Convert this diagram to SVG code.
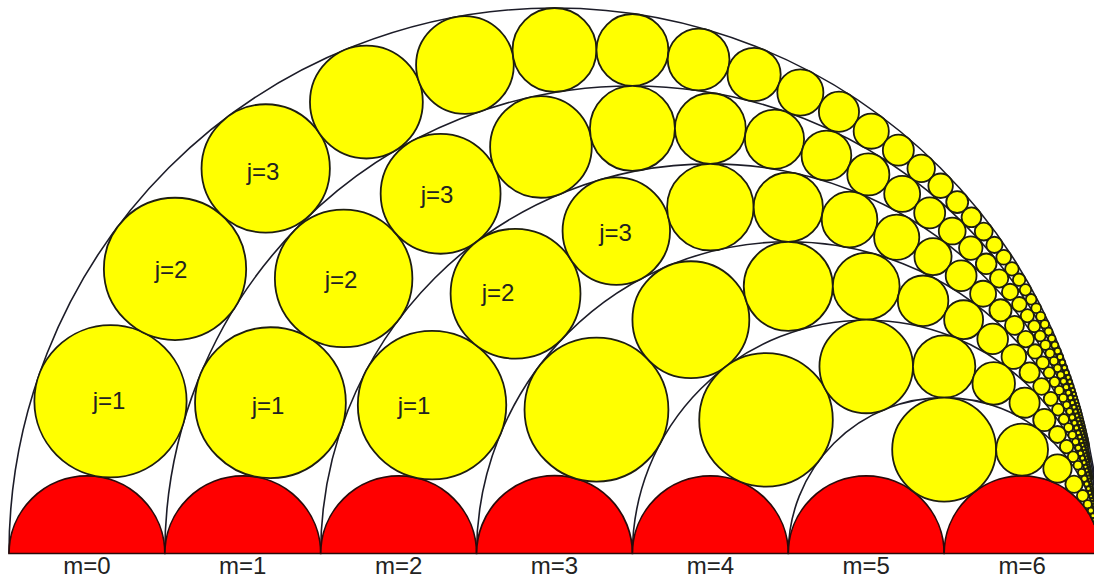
<svg xmlns="http://www.w3.org/2000/svg" width="1094" height="577" viewBox="0 0 1094 577">
<style>
.bg{fill:#ffffff}
.arc{fill:none;stroke:#1c1c28;stroke-width:1.6}
.red{fill:#ff0000;stroke:#2a0a0a;stroke-width:1.7}
.ch svg{overflow:visible}
.ch circle{fill:#ffff00;stroke:#1e1e10;stroke-width:1.8;vector-effect:non-scaling-stroke}
text{font-family:"Liberation Sans",Arial,sans-serif;font-size:24px;fill:#222;text-anchor:middle}
</style>
<rect class="bg" x="0" y="0" width="1094" height="577"/>
<g id="arcs">
<path class="arc" d="M9 553.5A545.5 545.5 0 0 1 1100 553.5"/>
<path class="arc" d="M164.857 553.5A467.571 467.571 0 0 1 1100 553.5"/>
<path class="arc" d="M320.714 553.5A389.643 389.643 0 0 1 1100 553.5"/>
<path class="arc" d="M476.571 553.5A311.714 311.714 0 0 1 1100 553.5"/>
<path class="arc" d="M632.429 553.5A233.786 233.786 0 0 1 1100 553.5"/>
<path class="arc" d="M788.286 553.5A155.857 155.857 0 0 1 1100 553.5"/>
</g>
<g id="red-semicircles">
<path class="red" d="M9 553.5A77.929 77.929 0 0 1 164.857 553.5Z"/>
<path class="red" d="M164.857 553.5A77.929 77.929 0 0 1 320.714 553.5Z"/>
<path class="red" d="M320.714 553.5A77.929 77.929 0 0 1 476.571 553.5Z"/>
<path class="red" d="M476.571 553.5A77.929 77.929 0 0 1 632.429 553.5Z"/>
<path class="red" d="M632.429 553.5A77.929 77.929 0 0 1 788.286 553.5Z"/>
<path class="red" d="M788.286 553.5A77.929 77.929 0 0 1 944.143 553.5Z"/>
<path class="red" d="M944.143 553.5A77.929 77.929 0 0 1 1100 553.5Z"/>
</g>
<g id="chain-m0" class="ch" transform="translate(1100 553.5) scale(3273)">
<svg width="1" height="1" viewBox="0 0 43 43"><circle cx="-13" cy="-2" r="1"/></svg>
<svg width="1" height="1" viewBox="0 0 46 46"><circle cx="-13" cy="-4" r="1"/></svg>
<svg width="1" height="1" viewBox="0 0 51 51"><circle cx="-13" cy="-6" r="1"/></svg>
<svg width="1" height="1" viewBox="0 0 58 58"><circle cx="-13" cy="-8" r="1"/></svg>
<svg width="1" height="1" viewBox="0 0 67 67"><circle cx="-13" cy="-10" r="1"/></svg>
<svg width="1" height="1" viewBox="0 0 78 78"><circle cx="-13" cy="-12" r="1"/></svg>
<svg width="1" height="1" viewBox="0 0 91 91"><circle cx="-13" cy="-14" r="1"/></svg>
<svg width="1" height="1" viewBox="0 0 106 106"><circle cx="-13" cy="-16" r="1"/></svg>
<svg width="1" height="1" viewBox="0 0 123 123"><circle cx="-13" cy="-18" r="1"/></svg>
<svg width="1" height="1" viewBox="0 0 142 142"><circle cx="-13" cy="-20" r="1"/></svg>
<svg width="1" height="1" viewBox="0 0 163 163"><circle cx="-13" cy="-22" r="1"/></svg>
<svg width="1" height="1" viewBox="0 0 186 186"><circle cx="-13" cy="-24" r="1"/></svg>
<svg width="1" height="1" viewBox="0 0 211 211"><circle cx="-13" cy="-26" r="1"/></svg>
<svg width="1" height="1" viewBox="0 0 238 238"><circle cx="-13" cy="-28" r="1"/></svg>
<svg width="1" height="1" viewBox="0 0 267 267"><circle cx="-13" cy="-30" r="1"/></svg>
<svg width="1" height="1" viewBox="0 0 298 298"><circle cx="-13" cy="-32" r="1"/></svg>
<svg width="1" height="1" viewBox="0 0 331 331"><circle cx="-13" cy="-34" r="1"/></svg>
<svg width="1" height="1" viewBox="0 0 366 366"><circle cx="-13" cy="-36" r="1"/></svg>
<svg width="1" height="1" viewBox="0 0 403 403"><circle cx="-13" cy="-38" r="1"/></svg>
<svg width="1" height="1" viewBox="0 0 442 442"><circle cx="-13" cy="-40" r="1"/></svg>
<svg width="1" height="1" viewBox="0 0 483 483"><circle cx="-13" cy="-42" r="1"/></svg>
<svg width="1" height="1" viewBox="0 0 526 526"><circle cx="-13" cy="-44" r="1"/></svg>
<svg width="1" height="1" viewBox="0 0 571 571"><circle cx="-13" cy="-46" r="1"/></svg>
<svg width="1" height="1" viewBox="0 0 618 618"><circle cx="-13" cy="-48" r="1"/></svg>
<svg width="1" height="1" viewBox="0 0 667 667"><circle cx="-13" cy="-50" r="1"/></svg>
<svg width="1" height="1" viewBox="0 0 718 718"><circle cx="-13" cy="-52" r="1"/></svg>
<svg width="1" height="1" viewBox="0 0 771 771"><circle cx="-13" cy="-54" r="1"/></svg>
<svg width="1" height="1" viewBox="0 0 826 826"><circle cx="-13" cy="-56" r="1"/></svg>
<svg width="1" height="1" viewBox="0 0 883 883"><circle cx="-13" cy="-58" r="1"/></svg>
<svg width="1" height="1" viewBox="0 0 942 942"><circle cx="-13" cy="-60" r="1"/></svg>
<svg width="1" height="1" viewBox="0 0 1003 1003"><circle cx="-13" cy="-62" r="1"/></svg>
<svg width="1" height="1" viewBox="0 0 1066 1066"><circle cx="-13" cy="-64" r="1"/></svg>
<svg width="1" height="1" viewBox="0 0 1131 1131"><circle cx="-13" cy="-66" r="1"/></svg>
<svg width="1" height="1" viewBox="0 0 1198 1198"><circle cx="-13" cy="-68" r="1"/></svg>
<svg width="1" height="1" viewBox="0 0 1267 1267"><circle cx="-13" cy="-70" r="1"/></svg>
<svg width="1" height="1" viewBox="0 0 1338 1338"><circle cx="-13" cy="-72" r="1"/></svg>
<svg width="1" height="1" viewBox="0 0 1411 1411"><circle cx="-13" cy="-74" r="1"/></svg>
<svg width="1" height="1" viewBox="0 0 1486 1486"><circle cx="-13" cy="-76" r="1"/></svg>
<svg width="1" height="1" viewBox="0 0 1563 1563"><circle cx="-13" cy="-78" r="1"/></svg>
<svg width="1" height="1" viewBox="0 0 1642 1642"><circle cx="-13" cy="-80" r="1"/></svg>
<svg width="1" height="1" viewBox="0 0 1723 1723"><circle cx="-13" cy="-82" r="1"/></svg>
<svg width="1" height="1" viewBox="0 0 1806 1806"><circle cx="-13" cy="-84" r="1"/></svg>
<svg width="1" height="1" viewBox="0 0 1891 1891"><circle cx="-13" cy="-86" r="1"/></svg>
<svg width="1" height="1" viewBox="0 0 1978 1978"><circle cx="-13" cy="-88" r="1"/></svg>
<svg width="1" height="1" viewBox="0 0 2067 2067"><circle cx="-13" cy="-90" r="1"/></svg>
<svg width="1" height="1" viewBox="0 0 2158 2158"><circle cx="-13" cy="-92" r="1"/></svg>
<svg width="1" height="1" viewBox="0 0 2251 2251"><circle cx="-13" cy="-94" r="1"/></svg>
<svg width="1" height="1" viewBox="0 0 2346 2346"><circle cx="-13" cy="-96" r="1"/></svg>
<svg width="1" height="1" viewBox="0 0 2443 2443"><circle cx="-13" cy="-98" r="1"/></svg>
<svg width="1" height="1" viewBox="0 0 2542 2542"><circle cx="-13" cy="-100" r="1"/></svg>
<svg width="1" height="1" viewBox="0 0 2643 2643"><circle cx="-13" cy="-102" r="1"/></svg>
<svg width="1" height="1" viewBox="0 0 2746 2746"><circle cx="-13" cy="-104" r="1"/></svg>
<svg width="1" height="1" viewBox="0 0 2851 2851"><circle cx="-13" cy="-106" r="1"/></svg>
<svg width="1" height="1" viewBox="0 0 2958 2958"><circle cx="-13" cy="-108" r="1"/></svg>
<svg width="1" height="1" viewBox="0 0 3067 3067"><circle cx="-13" cy="-110" r="1"/></svg>
<svg width="1" height="1" viewBox="0 0 3178 3178"><circle cx="-13" cy="-112" r="1"/></svg>
<svg width="1" height="1" viewBox="0 0 3291 3291"><circle cx="-13" cy="-114" r="1"/></svg>
<svg width="1" height="1" viewBox="0 0 3406 3406"><circle cx="-13" cy="-116" r="1"/></svg>
<svg width="1" height="1" viewBox="0 0 3523 3523"><circle cx="-13" cy="-118" r="1"/></svg>
<svg width="1" height="1" viewBox="0 0 3642 3642"><circle cx="-13" cy="-120" r="1"/></svg>
</g>
<g id="chain-m1" class="ch" transform="translate(1100 553.5) scale(2337.86)">
<svg width="1" height="1" viewBox="0 0 31 31"><circle cx="-11" cy="-2" r="1"/></svg>
<svg width="1" height="1" viewBox="0 0 34 34"><circle cx="-11" cy="-4" r="1"/></svg>
<svg width="1" height="1" viewBox="0 0 39 39"><circle cx="-11" cy="-6" r="1"/></svg>
<svg width="1" height="1" viewBox="0 0 46 46"><circle cx="-11" cy="-8" r="1"/></svg>
<svg width="1" height="1" viewBox="0 0 55 55"><circle cx="-11" cy="-10" r="1"/></svg>
<svg width="1" height="1" viewBox="0 0 66 66"><circle cx="-11" cy="-12" r="1"/></svg>
<svg width="1" height="1" viewBox="0 0 79 79"><circle cx="-11" cy="-14" r="1"/></svg>
<svg width="1" height="1" viewBox="0 0 94 94"><circle cx="-11" cy="-16" r="1"/></svg>
<svg width="1" height="1" viewBox="0 0 111 111"><circle cx="-11" cy="-18" r="1"/></svg>
<svg width="1" height="1" viewBox="0 0 130 130"><circle cx="-11" cy="-20" r="1"/></svg>
<svg width="1" height="1" viewBox="0 0 151 151"><circle cx="-11" cy="-22" r="1"/></svg>
<svg width="1" height="1" viewBox="0 0 174 174"><circle cx="-11" cy="-24" r="1"/></svg>
<svg width="1" height="1" viewBox="0 0 199 199"><circle cx="-11" cy="-26" r="1"/></svg>
<svg width="1" height="1" viewBox="0 0 226 226"><circle cx="-11" cy="-28" r="1"/></svg>
<svg width="1" height="1" viewBox="0 0 255 255"><circle cx="-11" cy="-30" r="1"/></svg>
<svg width="1" height="1" viewBox="0 0 286 286"><circle cx="-11" cy="-32" r="1"/></svg>
<svg width="1" height="1" viewBox="0 0 319 319"><circle cx="-11" cy="-34" r="1"/></svg>
<svg width="1" height="1" viewBox="0 0 354 354"><circle cx="-11" cy="-36" r="1"/></svg>
<svg width="1" height="1" viewBox="0 0 391 391"><circle cx="-11" cy="-38" r="1"/></svg>
<svg width="1" height="1" viewBox="0 0 430 430"><circle cx="-11" cy="-40" r="1"/></svg>
<svg width="1" height="1" viewBox="0 0 471 471"><circle cx="-11" cy="-42" r="1"/></svg>
<svg width="1" height="1" viewBox="0 0 514 514"><circle cx="-11" cy="-44" r="1"/></svg>
<svg width="1" height="1" viewBox="0 0 559 559"><circle cx="-11" cy="-46" r="1"/></svg>
<svg width="1" height="1" viewBox="0 0 606 606"><circle cx="-11" cy="-48" r="1"/></svg>
<svg width="1" height="1" viewBox="0 0 655 655"><circle cx="-11" cy="-50" r="1"/></svg>
<svg width="1" height="1" viewBox="0 0 706 706"><circle cx="-11" cy="-52" r="1"/></svg>
<svg width="1" height="1" viewBox="0 0 759 759"><circle cx="-11" cy="-54" r="1"/></svg>
<svg width="1" height="1" viewBox="0 0 814 814"><circle cx="-11" cy="-56" r="1"/></svg>
<svg width="1" height="1" viewBox="0 0 871 871"><circle cx="-11" cy="-58" r="1"/></svg>
<svg width="1" height="1" viewBox="0 0 930 930"><circle cx="-11" cy="-60" r="1"/></svg>
<svg width="1" height="1" viewBox="0 0 991 991"><circle cx="-11" cy="-62" r="1"/></svg>
<svg width="1" height="1" viewBox="0 0 1054 1054"><circle cx="-11" cy="-64" r="1"/></svg>
<svg width="1" height="1" viewBox="0 0 1119 1119"><circle cx="-11" cy="-66" r="1"/></svg>
<svg width="1" height="1" viewBox="0 0 1186 1186"><circle cx="-11" cy="-68" r="1"/></svg>
<svg width="1" height="1" viewBox="0 0 1255 1255"><circle cx="-11" cy="-70" r="1"/></svg>
<svg width="1" height="1" viewBox="0 0 1326 1326"><circle cx="-11" cy="-72" r="1"/></svg>
<svg width="1" height="1" viewBox="0 0 1399 1399"><circle cx="-11" cy="-74" r="1"/></svg>
<svg width="1" height="1" viewBox="0 0 1474 1474"><circle cx="-11" cy="-76" r="1"/></svg>
<svg width="1" height="1" viewBox="0 0 1551 1551"><circle cx="-11" cy="-78" r="1"/></svg>
<svg width="1" height="1" viewBox="0 0 1630 1630"><circle cx="-11" cy="-80" r="1"/></svg>
<svg width="1" height="1" viewBox="0 0 1711 1711"><circle cx="-11" cy="-82" r="1"/></svg>
<svg width="1" height="1" viewBox="0 0 1794 1794"><circle cx="-11" cy="-84" r="1"/></svg>
<svg width="1" height="1" viewBox="0 0 1879 1879"><circle cx="-11" cy="-86" r="1"/></svg>
<svg width="1" height="1" viewBox="0 0 1966 1966"><circle cx="-11" cy="-88" r="1"/></svg>
<svg width="1" height="1" viewBox="0 0 2055 2055"><circle cx="-11" cy="-90" r="1"/></svg>
<svg width="1" height="1" viewBox="0 0 2146 2146"><circle cx="-11" cy="-92" r="1"/></svg>
<svg width="1" height="1" viewBox="0 0 2239 2239"><circle cx="-11" cy="-94" r="1"/></svg>
<svg width="1" height="1" viewBox="0 0 2334 2334"><circle cx="-11" cy="-96" r="1"/></svg>
<svg width="1" height="1" viewBox="0 0 2431 2431"><circle cx="-11" cy="-98" r="1"/></svg>
<svg width="1" height="1" viewBox="0 0 2530 2530"><circle cx="-11" cy="-100" r="1"/></svg>
</g>
<g id="chain-m2" class="ch" transform="translate(1100 553.5) scale(1558.57)">
<svg width="1" height="1" viewBox="0 0 21 21"><circle cx="-9" cy="-2" r="1"/></svg>
<svg width="1" height="1" viewBox="0 0 24 24"><circle cx="-9" cy="-4" r="1"/></svg>
<svg width="1" height="1" viewBox="0 0 29 29"><circle cx="-9" cy="-6" r="1"/></svg>
<svg width="1" height="1" viewBox="0 0 36 36"><circle cx="-9" cy="-8" r="1"/></svg>
<svg width="1" height="1" viewBox="0 0 45 45"><circle cx="-9" cy="-10" r="1"/></svg>
<svg width="1" height="1" viewBox="0 0 56 56"><circle cx="-9" cy="-12" r="1"/></svg>
<svg width="1" height="1" viewBox="0 0 69 69"><circle cx="-9" cy="-14" r="1"/></svg>
<svg width="1" height="1" viewBox="0 0 84 84"><circle cx="-9" cy="-16" r="1"/></svg>
<svg width="1" height="1" viewBox="0 0 101 101"><circle cx="-9" cy="-18" r="1"/></svg>
<svg width="1" height="1" viewBox="0 0 120 120"><circle cx="-9" cy="-20" r="1"/></svg>
<svg width="1" height="1" viewBox="0 0 141 141"><circle cx="-9" cy="-22" r="1"/></svg>
<svg width="1" height="1" viewBox="0 0 164 164"><circle cx="-9" cy="-24" r="1"/></svg>
<svg width="1" height="1" viewBox="0 0 189 189"><circle cx="-9" cy="-26" r="1"/></svg>
<svg width="1" height="1" viewBox="0 0 216 216"><circle cx="-9" cy="-28" r="1"/></svg>
<svg width="1" height="1" viewBox="0 0 245 245"><circle cx="-9" cy="-30" r="1"/></svg>
<svg width="1" height="1" viewBox="0 0 276 276"><circle cx="-9" cy="-32" r="1"/></svg>
<svg width="1" height="1" viewBox="0 0 309 309"><circle cx="-9" cy="-34" r="1"/></svg>
<svg width="1" height="1" viewBox="0 0 344 344"><circle cx="-9" cy="-36" r="1"/></svg>
<svg width="1" height="1" viewBox="0 0 381 381"><circle cx="-9" cy="-38" r="1"/></svg>
<svg width="1" height="1" viewBox="0 0 420 420"><circle cx="-9" cy="-40" r="1"/></svg>
<svg width="1" height="1" viewBox="0 0 461 461"><circle cx="-9" cy="-42" r="1"/></svg>
<svg width="1" height="1" viewBox="0 0 504 504"><circle cx="-9" cy="-44" r="1"/></svg>
<svg width="1" height="1" viewBox="0 0 549 549"><circle cx="-9" cy="-46" r="1"/></svg>
<svg width="1" height="1" viewBox="0 0 596 596"><circle cx="-9" cy="-48" r="1"/></svg>
<svg width="1" height="1" viewBox="0 0 645 645"><circle cx="-9" cy="-50" r="1"/></svg>
<svg width="1" height="1" viewBox="0 0 696 696"><circle cx="-9" cy="-52" r="1"/></svg>
<svg width="1" height="1" viewBox="0 0 749 749"><circle cx="-9" cy="-54" r="1"/></svg>
<svg width="1" height="1" viewBox="0 0 804 804"><circle cx="-9" cy="-56" r="1"/></svg>
<svg width="1" height="1" viewBox="0 0 861 861"><circle cx="-9" cy="-58" r="1"/></svg>
<svg width="1" height="1" viewBox="0 0 920 920"><circle cx="-9" cy="-60" r="1"/></svg>
<svg width="1" height="1" viewBox="0 0 981 981"><circle cx="-9" cy="-62" r="1"/></svg>
<svg width="1" height="1" viewBox="0 0 1044 1044"><circle cx="-9" cy="-64" r="1"/></svg>
<svg width="1" height="1" viewBox="0 0 1109 1109"><circle cx="-9" cy="-66" r="1"/></svg>
<svg width="1" height="1" viewBox="0 0 1176 1176"><circle cx="-9" cy="-68" r="1"/></svg>
<svg width="1" height="1" viewBox="0 0 1245 1245"><circle cx="-9" cy="-70" r="1"/></svg>
<svg width="1" height="1" viewBox="0 0 1316 1316"><circle cx="-9" cy="-72" r="1"/></svg>
<svg width="1" height="1" viewBox="0 0 1389 1389"><circle cx="-9" cy="-74" r="1"/></svg>
<svg width="1" height="1" viewBox="0 0 1464 1464"><circle cx="-9" cy="-76" r="1"/></svg>
<svg width="1" height="1" viewBox="0 0 1541 1541"><circle cx="-9" cy="-78" r="1"/></svg>
<svg width="1" height="1" viewBox="0 0 1620 1620"><circle cx="-9" cy="-80" r="1"/></svg>
<svg width="1" height="1" viewBox="0 0 1701 1701"><circle cx="-9" cy="-82" r="1"/></svg>
</g>
<g id="chain-m3" class="ch" transform="translate(1100 553.5) scale(935.14)">
<svg width="1" height="1" viewBox="0 0 13 13"><circle cx="-7" cy="-2" r="1"/></svg>
<svg width="1" height="1" viewBox="0 0 16 16"><circle cx="-7" cy="-4" r="1"/></svg>
<svg width="1" height="1" viewBox="0 0 21 21"><circle cx="-7" cy="-6" r="1"/></svg>
<svg width="1" height="1" viewBox="0 0 28 28"><circle cx="-7" cy="-8" r="1"/></svg>
<svg width="1" height="1" viewBox="0 0 37 37"><circle cx="-7" cy="-10" r="1"/></svg>
<svg width="1" height="1" viewBox="0 0 48 48"><circle cx="-7" cy="-12" r="1"/></svg>
<svg width="1" height="1" viewBox="0 0 61 61"><circle cx="-7" cy="-14" r="1"/></svg>
<svg width="1" height="1" viewBox="0 0 76 76"><circle cx="-7" cy="-16" r="1"/></svg>
<svg width="1" height="1" viewBox="0 0 93 93"><circle cx="-7" cy="-18" r="1"/></svg>
<svg width="1" height="1" viewBox="0 0 112 112"><circle cx="-7" cy="-20" r="1"/></svg>
<svg width="1" height="1" viewBox="0 0 133 133"><circle cx="-7" cy="-22" r="1"/></svg>
<svg width="1" height="1" viewBox="0 0 156 156"><circle cx="-7" cy="-24" r="1"/></svg>
<svg width="1" height="1" viewBox="0 0 181 181"><circle cx="-7" cy="-26" r="1"/></svg>
<svg width="1" height="1" viewBox="0 0 208 208"><circle cx="-7" cy="-28" r="1"/></svg>
<svg width="1" height="1" viewBox="0 0 237 237"><circle cx="-7" cy="-30" r="1"/></svg>
<svg width="1" height="1" viewBox="0 0 268 268"><circle cx="-7" cy="-32" r="1"/></svg>
<svg width="1" height="1" viewBox="0 0 301 301"><circle cx="-7" cy="-34" r="1"/></svg>
<svg width="1" height="1" viewBox="0 0 336 336"><circle cx="-7" cy="-36" r="1"/></svg>
<svg width="1" height="1" viewBox="0 0 373 373"><circle cx="-7" cy="-38" r="1"/></svg>
<svg width="1" height="1" viewBox="0 0 412 412"><circle cx="-7" cy="-40" r="1"/></svg>
<svg width="1" height="1" viewBox="0 0 453 453"><circle cx="-7" cy="-42" r="1"/></svg>
<svg width="1" height="1" viewBox="0 0 496 496"><circle cx="-7" cy="-44" r="1"/></svg>
<svg width="1" height="1" viewBox="0 0 541 541"><circle cx="-7" cy="-46" r="1"/></svg>
<svg width="1" height="1" viewBox="0 0 588 588"><circle cx="-7" cy="-48" r="1"/></svg>
<svg width="1" height="1" viewBox="0 0 637 637"><circle cx="-7" cy="-50" r="1"/></svg>
<svg width="1" height="1" viewBox="0 0 688 688"><circle cx="-7" cy="-52" r="1"/></svg>
<svg width="1" height="1" viewBox="0 0 741 741"><circle cx="-7" cy="-54" r="1"/></svg>
<svg width="1" height="1" viewBox="0 0 796 796"><circle cx="-7" cy="-56" r="1"/></svg>
<svg width="1" height="1" viewBox="0 0 853 853"><circle cx="-7" cy="-58" r="1"/></svg>
<svg width="1" height="1" viewBox="0 0 912 912"><circle cx="-7" cy="-60" r="1"/></svg>
<svg width="1" height="1" viewBox="0 0 973 973"><circle cx="-7" cy="-62" r="1"/></svg>
<svg width="1" height="1" viewBox="0 0 1036 1036"><circle cx="-7" cy="-64" r="1"/></svg>
</g>
<g id="chain-m4" class="ch" transform="translate(1100 553.5) scale(467.57)">
<svg width="1" height="1" viewBox="0 0 7 7"><circle cx="-5" cy="-2" r="1"/></svg>
<svg width="1" height="1" viewBox="0 0 10 10"><circle cx="-5" cy="-4" r="1"/></svg>
<svg width="1" height="1" viewBox="0 0 15 15"><circle cx="-5" cy="-6" r="1"/></svg>
<svg width="1" height="1" viewBox="0 0 22 22"><circle cx="-5" cy="-8" r="1"/></svg>
<svg width="1" height="1" viewBox="0 0 31 31"><circle cx="-5" cy="-10" r="1"/></svg>
<svg width="1" height="1" viewBox="0 0 42 42"><circle cx="-5" cy="-12" r="1"/></svg>
<svg width="1" height="1" viewBox="0 0 55 55"><circle cx="-5" cy="-14" r="1"/></svg>
<svg width="1" height="1" viewBox="0 0 70 70"><circle cx="-5" cy="-16" r="1"/></svg>
<svg width="1" height="1" viewBox="0 0 87 87"><circle cx="-5" cy="-18" r="1"/></svg>
<svg width="1" height="1" viewBox="0 0 106 106"><circle cx="-5" cy="-20" r="1"/></svg>
<svg width="1" height="1" viewBox="0 0 127 127"><circle cx="-5" cy="-22" r="1"/></svg>
<svg width="1" height="1" viewBox="0 0 150 150"><circle cx="-5" cy="-24" r="1"/></svg>
<svg width="1" height="1" viewBox="0 0 175 175"><circle cx="-5" cy="-26" r="1"/></svg>
<svg width="1" height="1" viewBox="0 0 202 202"><circle cx="-5" cy="-28" r="1"/></svg>
<svg width="1" height="1" viewBox="0 0 231 231"><circle cx="-5" cy="-30" r="1"/></svg>
<svg width="1" height="1" viewBox="0 0 262 262"><circle cx="-5" cy="-32" r="1"/></svg>
<svg width="1" height="1" viewBox="0 0 295 295"><circle cx="-5" cy="-34" r="1"/></svg>
<svg width="1" height="1" viewBox="0 0 330 330"><circle cx="-5" cy="-36" r="1"/></svg>
<svg width="1" height="1" viewBox="0 0 367 367"><circle cx="-5" cy="-38" r="1"/></svg>
<svg width="1" height="1" viewBox="0 0 406 406"><circle cx="-5" cy="-40" r="1"/></svg>
<svg width="1" height="1" viewBox="0 0 447 447"><circle cx="-5" cy="-42" r="1"/></svg>
<svg width="1" height="1" viewBox="0 0 490 490"><circle cx="-5" cy="-44" r="1"/></svg>
</g>
<g id="chain-m5" class="ch" transform="translate(1100 553.5) scale(155.857)">
<svg width="1" height="1" viewBox="0 0 3 3"><circle cx="-3" cy="-2" r="1"/></svg>
<svg width="1" height="1" viewBox="0 0 6 6"><circle cx="-3" cy="-4" r="1"/></svg>
<svg width="1" height="1" viewBox="0 0 11 11"><circle cx="-3" cy="-6" r="1"/></svg>
<svg width="1" height="1" viewBox="0 0 18 18"><circle cx="-3" cy="-8" r="1"/></svg>
<svg width="1" height="1" viewBox="0 0 27 27"><circle cx="-3" cy="-10" r="1"/></svg>
<svg width="1" height="1" viewBox="0 0 38 38"><circle cx="-3" cy="-12" r="1"/></svg>
<svg width="1" height="1" viewBox="0 0 51 51"><circle cx="-3" cy="-14" r="1"/></svg>
<svg width="1" height="1" viewBox="0 0 66 66"><circle cx="-3" cy="-16" r="1"/></svg>
<svg width="1" height="1" viewBox="0 0 83 83"><circle cx="-3" cy="-18" r="1"/></svg>
<svg width="1" height="1" viewBox="0 0 102 102"><circle cx="-3" cy="-20" r="1"/></svg>
<svg width="1" height="1" viewBox="0 0 123 123"><circle cx="-3" cy="-22" r="1"/></svg>
<svg width="1" height="1" viewBox="0 0 146 146"><circle cx="-3" cy="-24" r="1"/></svg>
<svg width="1" height="1" viewBox="0 0 171 171"><circle cx="-3" cy="-26" r="1"/></svg>
</g>
<g id="j-labels">
<text x="109" y="409">j=1</text>
<text x="171" y="278">j=2</text>
<text x="263" y="180">j=3</text>
<text x="268" y="414">j=1</text>
<text x="341" y="288">j=2</text>
<text x="437" y="203">j=3</text>
<text x="414" y="414">j=1</text>
<text x="498" y="301">j=2</text>
<text x="615.5" y="241">j=3</text>
</g>
<g id="m-labels">
<text x="86.9" y="574">m=0</text>
<text x="242.8" y="574">m=1</text>
<text x="398.6" y="574">m=2</text>
<text x="554.5" y="574">m=3</text>
<text x="710.4" y="574">m=4</text>
<text x="866.2" y="574">m=5</text>
<text x="1022.1" y="574">m=6</text>
</g>
</svg>
